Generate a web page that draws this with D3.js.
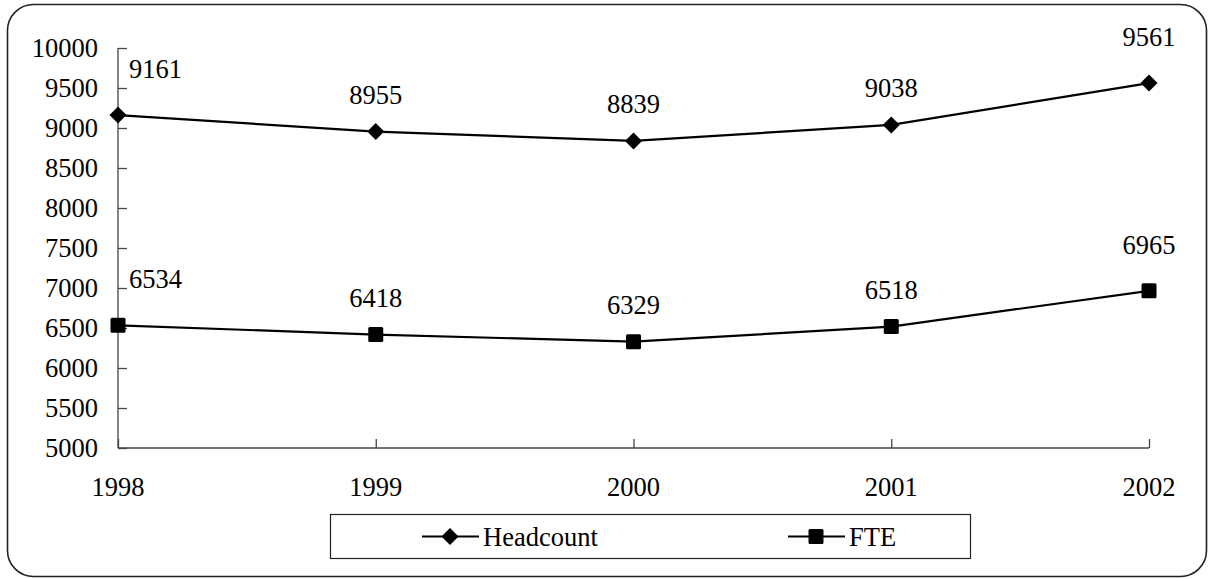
<!DOCTYPE html>
<html><head><meta charset="utf-8">
<script src="https://cdn.jsdelivr.net/npm/d3@7"></script>
<style>body{margin:0;background:#fff}svg{display:block}</style>
</head><body>
<script>
const years = ["1998","1999","2000","2001","2002"];
const headcount = [9161, 8955, 8839, 9038, 9561];
const fte = [6534, 6418, 6329, 6518, 6965];
const yTicks = [5000,5500,6000,6500,7000,7500,8000,8500,9000,9500,10000];
const seriesNames = ["Headcount","FTE"];

const W=1209,H=579,FS=26.5,FF="'Liberation Serif', 'Times New Roman', Times, serif";
const svg=d3.select("body").append("svg").attr("width",W).attr("height",H)
  .attr("font-family",FF).style("font-family",FF);
svg.append("rect").attr("x",7.5).attr("y",4.5).attr("width",1199).attr("height",572)
  .attr("rx",26).attr("fill","#fff").attr("stroke","#222").attr("stroke-width",1.6);

const x=d3.scalePoint().domain(years).range([118,1149]);
const y=d3.scaleLinear().domain([5000,10000]).range([448,48]);

function txt(sel){return sel.attr("font-family",FF).style("font-family",FF).attr("font-size",FS).attr("fill","#000");}

// y axis
const ya=svg.append("g").attr("transform","translate(118,0)")
  .call(d3.axisRight(y).tickValues(yTicks).tickSize(9).tickFormat(""));
ya.select(".domain").attr("stroke","#444").attr("stroke-width",1.3).attr("d","M0,48V448");
ya.selectAll(".tick line").attr("stroke","#444").attr("stroke-width",1.3);
txt(svg.append("g").selectAll("text").data(yTicks).join("text")
  .attr("x",98).attr("y",d=>y(d)).attr("dy","0.33em").attr("text-anchor","end")).text(d=>d);

// x axis
const xa=svg.append("g").attr("transform","translate(0,448)")
  .call(d3.axisTop(x).tickSize(9).tickFormat(""));
xa.select(".domain").attr("stroke","#444").attr("stroke-width",1.3).attr("d","M118,0H1149");
xa.selectAll(".tick line").attr("stroke","#444").attr("stroke-width",1.3);
txt(svg.append("g").selectAll("text").data(years).join("text")
  .attr("x",d=>x(d)).attr("y",496).attr("text-anchor","middle")).text(d=>d);

const line=d3.line().x((d,i)=>x(years[i])).y(d=>y(d));
function drawSeries(vals, shape){
  const g=svg.append("g");
  g.append("path").datum(vals).attr("d",line).attr("fill","none")
    .attr("stroke","#000").attr("stroke-width",2.2);
  vals.forEach((v,i)=>{
    const cx=x(years[i]),cy=y(v);
    if(shape==="diamond"){
      g.append("path").attr("d",`M${cx},${cy-8.5}L${cx+8.5},${cy}L${cx},${cy+8.5}L${cx-8.5},${cy}Z`).attr("fill","#000");
    } else {
      g.append("rect").attr("x",cx-7.5).attr("y",cy-7.5).attr("width",15).attr("height",15).attr("rx",1.5).attr("fill","#000");
    }
    const edge=(i===0||i===vals.length-1);
    const t=txt(g.append("text").attr("y",cy-(edge?37:28))).text(v);
    if(i===0) t.attr("x",129).attr("text-anchor","start");
    else t.attr("x",cx).attr("text-anchor","middle");
  });
}
drawSeries(headcount,"diamond");
drawSeries(fte,"square");

// legend
const lg=svg.append("g");
lg.append("rect").attr("x",330.5).attr("y",514.5).attr("width",640).attr("height",44)
  .attr("fill","#fff").attr("stroke","#222").attr("stroke-width",1.2);
const items=[{n:seriesNames[0],x0:422,s:"diamond"},{n:seriesNames[1],x0:788,s:"square"}];
items.forEach(it=>{
  const cy=536.5, cx=it.x0+28;
  lg.append("line").attr("x1",it.x0).attr("x2",it.x0+57).attr("y1",cy).attr("y2",cy).attr("stroke","#000").attr("stroke-width",2.2);
  if(it.s==="diamond") lg.append("path").attr("d",`M${cx},${cy-8.5}L${cx+8.5},${cy}L${cx},${cy+8.5}L${cx-8.5},${cy}Z`);
  else lg.append("rect").attr("x",cx-7.5).attr("y",cy-7.5).attr("width",15).attr("height",15).attr("rx",1.5);
  txt(lg.append("text").attr("x",it.x0+61).attr("y",cy).attr("dy","0.35em")).text(it.n);
});
</script>
</body></html>
